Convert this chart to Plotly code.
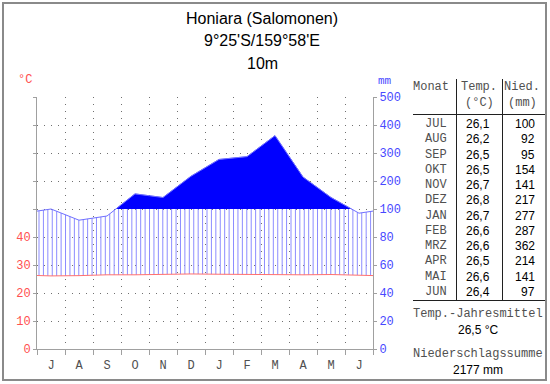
import numpy as np
import plotly.graph_objects as go

# ---------------- data ----------------
months_table = ["JUL", "AUG", "SEP", "OKT", "NOV", "DEZ", "JAN", "FEB", "MRZ", "APR", "MAI", "JUN"]
month_letters = ["J", "A", "S", "O", "N", "D", "J", "F", "M", "A", "M", "J"]
temp_c = [26.1, 26.2, 26.5, 26.5, 26.7, 26.8, 26.7, 26.6, 26.6, 26.5, 26.6, 26.4]
precip_mm = [100, 92, 95, 154, 141, 217, 277, 287, 362, 214, 141, 97]
temp_ticks = [0, 10, 20, 30, 40]
mm_ticks = [0, 20, 40, 60, 80, 100, 200, 300, 400, 500]
title_lines = ["Honiara (Salomonen)", "9°25'S/159°58'E", "10m"]
annual_temp = "26,5 °C"
annual_precip = "2177 mm"

# ---------------- scale helpers ----------------
def mm_to_u(p):
    p = np.asarray(p, dtype=float)
    return np.where(p <= 100, p / 2.0, 50 + (p - 100) / 10.0)

U_MAX = 90
n = len(temp_c)
centers = np.arange(n) + 0.5
x_ext = np.concatenate([[centers[0] - 1], centers, [centers[-1] + 1]])
t_ext = np.array([temp_c[-1]] + temp_c + [temp_c[0]], dtype=float)
p_ext = mm_to_u([precip_mm[-1]] + precip_mm + [precip_mm[0]])

# pixel geometry of plot area
L, R, T, B = 37, 373, 97, 349
W, H = 550, 384
def px(x):
    return (x - L) / (R - L)
def py(y):
    return (B - y) / (B - T)

fig = go.Figure()

# hatching (humid period)
hx, hy = [], []
n_hatch = 76
for k in range(n_hatch):
    xx = (2 + k * 336 / n_hatch) / 28.0
    tv = np.interp(xx, x_ext, t_ext)
    pv = np.interp(xx, x_ext, p_ext)
    top = min(pv, 50.0)
    if top > tv:
        hx += [xx, xx, None]
        hy += [tv, top, None]
fig.add_trace(go.Scatter(x=hx, y=hy, mode="lines", line=dict(color="#8c8cff", width=1),
                         hoverinfo="skip", showlegend=False))

# solid fill above 100 mm
fx, fy = [], []
cur = []
for i in range(len(x_ext) - 1):
    x0, x1 = x_ext[i], x_ext[i + 1]
    y0, y1 = p_ext[i], p_ext[i + 1]
    if y0 >= 50 and not cur:
        cur = [(x0, 50.0), (x0, y0)]
    if (y0 - 50) * (y1 - 50) < 0:
        xc = x0 + (50 - y0) / (y1 - y0) * (x1 - x0)
        if y1 > 50:
            cur = [(xc, 50.0)]
        else:
            cur.append((xc, 50.0))
            fx += [c[0] for c in cur] + [None]
            fy += [c[1] for c in cur] + [None]
            cur = []
            continue
    if y1 >= 50:
        cur.append((x1, y1))
if cur:
    cur.append((cur[-1][0], 50.0))
    fx += [c[0] for c in cur] + [None]
    fy += [c[1] for c in cur] + [None]
fig.add_trace(go.Scatter(x=fx, y=fy, mode="lines", fill="toself", fillcolor="#0000ff",
                         line=dict(color="#0000ff", width=0.5), hoverinfo="skip", showlegend=False))

# precipitation line
fig.add_trace(go.Scatter(x=x_ext, y=p_ext, mode="lines", line=dict(color="#7070ff", width=1),
                         hoverinfo="skip", showlegend=False))
# temperature line
fig.add_trace(go.Scatter(x=x_ext, y=t_ext, mode="lines", line=dict(color="#ff7070", width=1),
                         hoverinfo="skip", showlegend=False))
# dummy for right axis
fig.add_trace(go.Scatter(x=[0], y=[0], yaxis="y2", mode="markers", marker=dict(opacity=0),
                         hoverinfo="skip", showlegend=False))

mono = "Liberation Mono"
sans = "Liberation Sans"
axis_gray = "#a0a0a0"
grid_gray = "#707070"

u_ticks = list(range(0, U_MAX + 1, 10))
left_text = [str(v) if v in temp_ticks else "" for v in u_ticks]
right_text = [str(v) for v in mm_ticks]

fig.update_layout(
    width=W, height=H,
    margin=dict(l=L, r=W - R, t=T, b=H - B),
    paper_bgcolor="white", plot_bgcolor="white",
    showlegend=False,
    xaxis=dict(range=[0, n], tickvals=list(centers), ticktext=month_letters, ticks="",
               showgrid=False, zeroline=False, showline=True, linecolor=axis_gray, linewidth=1,
               tickfont=dict(family=mono, size=12, color="#505050"), ticklabelstandoff=5,
               minor=dict(tick0=0, dtick=1, ticks="outside", ticklen=5, tickcolor=axis_gray,
                          showgrid=True, gridcolor=grid_gray, griddash="1px,6px", gridwidth=1),
               fixedrange=True),
    yaxis=dict(range=[0, U_MAX], tickvals=u_ticks, ticktext=left_text, ticks="outside", ticklen=3,
               tickcolor=axis_gray, showline=True, linecolor=axis_gray, linewidth=1, zeroline=False,
               showgrid=True, gridcolor=grid_gray, griddash="1px,6px", gridwidth=1,
               tickfont=dict(family=mono, size=12, color="#ff5050"), fixedrange=True),
    yaxis2=dict(range=[0, U_MAX], overlaying="y", side="right", tickvals=u_ticks, ticktext=right_text,
                ticks="outside", ticklen=3, tickcolor=axis_gray, showline=True, linecolor=axis_gray,
                linewidth=1, zeroline=False, showgrid=False,
                tickfont=dict(family=mono, size=12, color="#4848ff"), fixedrange=True),
)

ann = []
def text(x, y, s, size=12, color="black", family=sans, xanchor="center"):
    ann.append(dict(x=px(x), y=py(y), xref="paper", yref="paper", text=s, showarrow=False,
                    xanchor=xanchor, yanchor="middle", font=dict(family=family, size=size, color=color)))

# titles
for s, yy in zip(title_lines, [18, 41, 63]):
    text(262, yy, s, size=16)
# unit labels
text(25, 80, "°C", size=12, color="#ff5050", family=mono)
text(385, 81, "mm", size=11, color="#4848ff", family=mono)

# table
gray_txt = "#505050"
text(431, 87, "Monat", size=12, color=gray_txt, family=mono)
text(479, 87, "Temp.", size=12, color=gray_txt, family=mono)
text(479, 103, "(°C)", size=12, color=gray_txt, family=mono)
text(522, 87, "Nied.", size=12, color=gray_txt, family=mono)
text(522, 103, "(mm)", size=12, color=gray_txt, family=mono)
row0, step = 124, (292 - 124) / 11
for i in range(n):
    yy = row0 + i * step
    text(436, yy, months_table[i], size=12, color=gray_txt, family=mono)
    text(478, yy, f"{temp_c[i]:.1f}".replace(".", ","), size=12)
    text(537, yy, str(precip_mm[i]), size=12, xanchor="right")
text(478, 314, "Temp.-Jahresmittel", size=12, color=gray_txt, family=mono)
text(478, 330, annual_temp, size=12)
text(478, 354, "Niederschlagssumme", size=12, color=gray_txt, family=mono)
text(478, 370, annual_precip, size=12)
fig.update_layout(annotations=ann)

shapes = []
def line(x0, y0, x1, y1, color="#202020", width=1):
    shapes.append(dict(type="line", xref="paper", yref="paper", x0=px(x0), y0=py(y0),
                       x1=px(x1), y1=py(y1), line=dict(color=color, width=width)))
line(456.5, 79, 456.5, 301)
line(502.5, 79, 502.5, 301)
line(413, 114.5, 546, 114.5)
line(413, 300.5, 546, 300.5)
# frame
shapes.append(dict(type="rect", xref="paper", yref="paper", x0=px(3), y0=py(3), x1=px(546), y1=py(380),
                   line=dict(color="#8a8a8a", width=2)))
fig.update_layout(shapes=shapes)

fig.write_html("out.html", config={"displayModeBar": False},
               post_script="document.body.style.margin='0';document.body.style.overflow='hidden';")
